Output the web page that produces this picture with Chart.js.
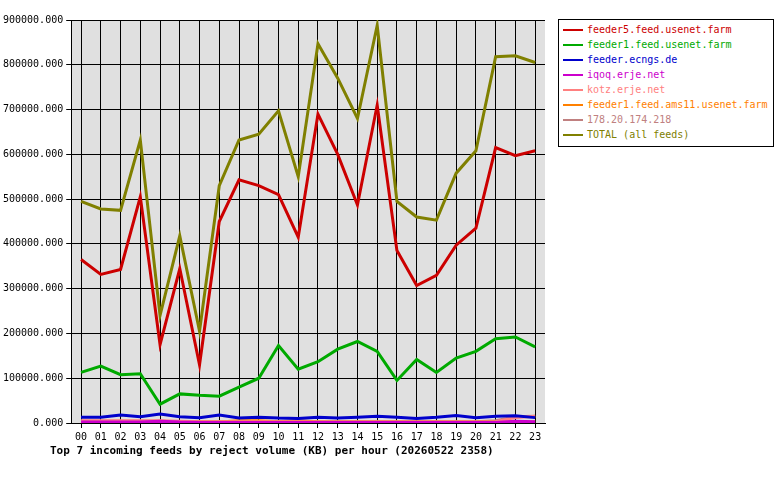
<!DOCTYPE html>
<html>
<head>
<meta charset="UTF-8">
<script src="https://cdn.jsdelivr.net/npm/chart.js"></script>
<style>
  body { margin: 0; background: #fff; font-family: "DejaVu Sans Mono", monospace; }
  #wrap { position: relative; width: 780px; height: 480px; }
  #legend { position: absolute; left: 558px; top: 19px; width: 214px; border: 1px solid #000; padding: 2px 0 4px 0; font-size: 10px; background: #fff; }
  #legend div { height: 15px; line-height: 15px; padding-left: 28px; position: relative; white-space: nowrap; }
  #legend span { position: absolute; left: 4px; top: 7px; width: 20px; height: 2px; }
  #title { position: absolute; left: 50px; top: 444px; font-size: 11px; font-weight: bold; }
</style>
</head>
<body>
<div id="wrap">
  <canvas id="c" width="780" height="480"></canvas>
  <div id="legend"></div>
  <div id="title">Top 7 incoming feeds by reject volume (KB) per hour (20260522 2358)</div>
</div>
<script>
const hours = ['00','01','02','03','04','05','06','07','08','09','10','11','12','13','14','15','16','17','18','19','20','21','22','23'];
const names = ['feeder5.feed.usenet.farm','feeder1.feed.usenet.farm','feeder.ecngs.de','iqoq.erje.net','kotz.erje.net','feeder1.feed.ams11.usenet.farm','178.20.174.218','TOTAL (all feeds)'];
const colors = ['#cc0000','#00aa00','#0000cc','#cc00cc','#ff8080','#ff8000','#c08080','#808000'];
const feeder5 = [365000,332000,343000,505000,175000,345000,130000,450000,543000,530000,510000,415000,690000,600000,487000,710000,385000,307000,330000,397000,435000,615000,597000,608000];
const feeder1 = [113000,127000,108000,110000,42000,65000,62000,60000,80000,100000,173000,120000,137000,165000,182000,160000,95000,142000,113000,145000,160000,188000,192000,170000];
const ecngs = [13000,13000,18000,14000,20000,14000,12000,18000,11000,13000,11000,10000,13000,11000,13000,15000,13000,10000,13000,17000,12000,15000,16000,12000];
const iqoq = [2000,2000,2000,2000,4000,2000,1000,1000,1000,1000,1000,1000,1000,1000,1000,1000,1000,1000,1000,1000,1000,1000,4000,3000];
const kotz = [5000,5000,5000,5000,5000,4000,3000,3000,3000,3000,3000,3000,2000,2000,2000,2000,2000,2000,2000,2000,2000,3000,12000,15000];
const ams11 = [2000,2000,2000,2000,2000,2000,2000,2000,5000,5000,3000,5000,2000,2000,2000,2000,2000,2000,2000,2000,2000,2000,2000,2000];
const ip178 = [4000,4000,4000,4000,4000,3000,3000,3000,3000,3000,3000,3000,3000,3000,3000,3000,3000,3000,3000,3000,3000,5000,14000,15000];
const total = [495000,478000,475000,632000,240000,418000,205000,530000,632000,645000,697000,550000,847000,770000,680000,888000,495000,460000,453000,558000,608000,818000,820000,805000];
const series = [feeder5, feeder1, ecngs, iqoq, kotz, ams11, ip178, total];

const legend = document.getElementById('legend');
names.forEach((n, i) => {
  const d = document.createElement('div');
  d.style.color = colors[i];
  d.innerHTML = '<span style="background:' + colors[i] + '"></span>' + n;
  legend.appendChild(d);
});

const plotBg = {
  id: 'plotBg',
  beforeDraw(chart) {
    const a = chart.chartArea, ctx = chart.ctx;
    ctx.save();
    ctx.fillStyle = '#e0e0e0';
    ctx.fillRect(a.left, a.top, a.right - a.left, a.bottom - a.top);
    ctx.restore();
  }
};

Chart.defaults.font.family = '"DejaVu Sans Mono", monospace';
Chart.defaults.font.size = 10;
Chart.defaults.color = '#000';

new Chart(document.getElementById('c'), {
  type: 'line',
  data: {
    labels: hours,
    datasets: series.map((s, i) => ({
      label: names[i], data: s, borderColor: colors[i], borderWidth: 3,
      pointRadius: 0, tension: 0, fill: false, order: i === 7 ? 0 : 1
    }))
  },
  options: {
    responsive: false, animation: false,
    layout: { padding: { left: 0, right: 235, top: 20, bottom: 34 } },
    plugins: { legend: { display: false }, tooltip: { enabled: false } },
    scales: {
      x: {
        offset: true,
        grid: { color: '#000', offset: false, tickLength: 5 },
        border: { color: '#000' },
        ticks: { maxRotation: 0, autoSkip: false }
      },
      y: {
        min: 0, max: 900000,
        grid: { color: '#000', tickLength: 5 },
        border: { color: '#000' },
        ticks: { stepSize: 100000, callback: v => v.toFixed(3) }
      }
    }
  },
  plugins: [plotBg]
});
</script>
</body>
</html>
